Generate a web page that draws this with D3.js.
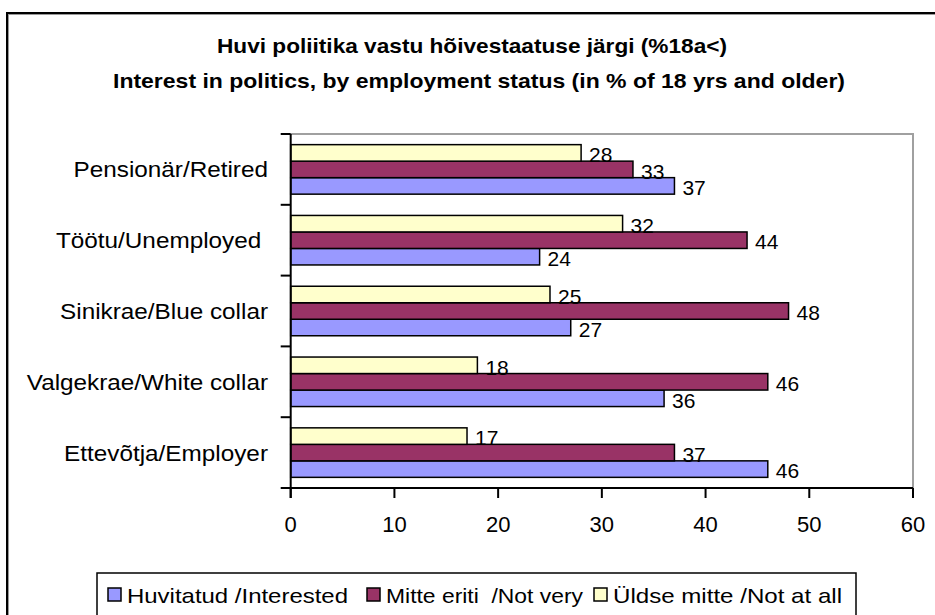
<!DOCTYPE html>
<html>
<head>
<meta charset="utf-8">
<script src="https://cdn.jsdelivr.net/npm/d3@7"></script>
<style>
  html, body { margin: 0; padding: 0; background: #fff; }
  svg { display: block; }
  text { font-family: "Liberation Sans", Arial, sans-serif; fill: #000; }
</style>
</head>
<body>
<svg id="chart" width="935" height="615"></svg>
<script>
// ---- data ----
const categories = ["Pensionär/Retired", "Töötu/Unemployed ", "Sinikrae/Blue collar", "Valgekrae/White collar", "Ettevõtja/Employer"];
const seriesNames = ["Huvitatud /Interested", "Mitte eriti  /Not very", "Üldse mitte /Not at all"];
const interested = [37, 24, 27, 36, 46];
const notVery    = [33, 44, 48, 46, 37];
const notAtAll   = [28, 32, 25, 18, 17];
const xTicks = [0, 10, 20, 30, 40, 50, 60];
const titleLines = ["Huvi poliitika vastu hõivestaatuse järgi (%18a<)",
                    "Interest in politics, by employment status (in % of 18 yrs and older)"];
const colors = ["#9999FF", "#993366", "#FFFFCC"];

(function () {
const series = [
  { name: seriesNames[0], values: interested, color: colors[0] },
  { name: seriesNames[1], values: notVery, color: colors[1] },
  { name: seriesNames[2], values: notAtAll, color: colors[2] }
];

const svg = d3.select("#chart");

// outer frame
svg.append("rect").attr("x", 8).attr("y", 14).attr("width", 1000).attr("height", 700)
  .attr("fill", "none").attr("stroke", "#999").attr("stroke-width", 2);
svg.append("rect").attr("x", 7).attr("y", 13).attr("width", 1000).attr("height", 700)
  .attr("fill", "none").attr("stroke", "#000").attr("stroke-width", 2);

// title
svg.append("text").attr("x", 472).attr("y", 53).attr("text-anchor", "middle")
  .attr("font-size", 21).attr("font-weight", "bold")
  .attr("textLength", 510).attr("lengthAdjust", "spacingAndGlyphs")
  .text(titleLines[0]);
svg.append("text").attr("x", 479).attr("y", 88).attr("text-anchor", "middle")
  .attr("font-size", 21).attr("font-weight", "bold")
  .attr("textLength", 732).attr("lengthAdjust", "spacingAndGlyphs")
  .text(titleLines[1]);

// plot area
const pLeft = 290.7, pRight = 913, pTop = 134, pBottom = 488;
const x = d3.scaleLinear().domain([0, 60]).range([pLeft, pRight]);
const y = d3.scaleBand().domain(categories).range([pTop, pBottom]).padding(0);
const inner = d3.scaleBand().domain([2, 1, 0]).range([0, y.bandwidth()])
  .paddingInner(0).paddingOuter(0.645);

// plot border (grey top & right)
svg.append("path")
  .attr("d", `M${pLeft},${pTop}H${pRight}V${pBottom}`)
  .attr("fill", "none").attr("stroke", "#a0a0a0").attr("stroke-width", 2);

// bars
const g = svg.append("g");
series.forEach((s, si) => {
  g.selectAll(null).data(categories).enter().append("rect")
    .attr("x", x(0))
    .attr("y", (c) => y(c) + inner(si))
    .attr("width", (c, i) => x(s.values[i]) - x(0))
    .attr("height", inner.bandwidth())
    .attr("fill", s.color)
    .attr("stroke", "#000").attr("stroke-width", 1.5);
});
// value labels
series.forEach((s, si) => {
  g.selectAll(null).data(categories).enter().append("text")
    .attr("x", (c, i) => x(s.values[i]) + 8)
    .attr("y", (c) => y(c) + inner(si) + inner.bandwidth() + 1)
    .attr("font-size", 21)
    .text((c, i) => s.values[i]);
});

// y axis
const yAxisG = svg.append("g");
yAxisG.append("line").attr("x1", pLeft).attr("x2", pLeft).attr("y1", pTop).attr("y2", pBottom + 10)
  .attr("stroke", "#000").attr("stroke-width", 2);
const boundaries = categories.map(c => y(c)).concat([pBottom]);
yAxisG.selectAll(null).data(boundaries).enter().append("line")
  .attr("x1", pLeft - 10).attr("x2", pLeft).attr("y1", d => d).attr("y2", d => d)
  .attr("stroke", "#000").attr("stroke-width", 2);
yAxisG.selectAll(null).data(categories).enter().append("text")
  .attr("x", 268).attr("y", c => y(c) + y.bandwidth() / 2 + 8)
  .attr("text-anchor", "end").attr("font-size", 21.5)
  .attr("xml:space", "preserve").style("white-space", "pre")
  .text(c => c)
  .each(function () {
    const w = this.getComputedTextLength();
    d3.select(this).attr("textLength", w * 1.13).attr("lengthAdjust", "spacingAndGlyphs");
  });

// x axis
const xAxisG = svg.append("g");
xAxisG.append("line").attr("x1", pLeft).attr("x2", pRight).attr("y1", pBottom).attr("y2", pBottom)
  .attr("stroke", "#000").attr("stroke-width", 2);
xAxisG.selectAll(null).data(xTicks).enter().append("line")
  .attr("x1", d => x(d)).attr("x2", d => x(d)).attr("y1", pBottom).attr("y2", pBottom + 10)
  .attr("stroke", "#000").attr("stroke-width", 2);
xAxisG.selectAll(null).data(xTicks).enter().append("text")
  .attr("x", d => x(d)).attr("y", 532).attr("text-anchor", "middle")
  .attr("font-size", 22).text(d => d);

// legend
const lg = svg.append("g");
lg.append("rect").attr("x", 97).attr("y", 573).attr("width", 759).attr("height", 100)
  .attr("fill", "#fff").attr("stroke", "#000").attr("stroke-width", 1.5);
const legendX = [108, 367, 594];
const legendW = [221, 197, 229];
series.forEach((s, i) => {
  lg.append("rect").attr("x", legendX[i]).attr("y", 588).attr("width", 13).attr("height", 13)
    .attr("fill", s.color).attr("stroke", "#000").attr("stroke-width", 1.5);
  lg.append("text").attr("x", legendX[i] + 19).attr("y", 603)
    .attr("font-size", 21)
    .attr("textLength", legendW[i]).attr("lengthAdjust", "spacingAndGlyphs")
    .attr("xml:space", "preserve").style("white-space", "pre")
    .text(s.name);
});
})();
</script>
</body>
</html>
